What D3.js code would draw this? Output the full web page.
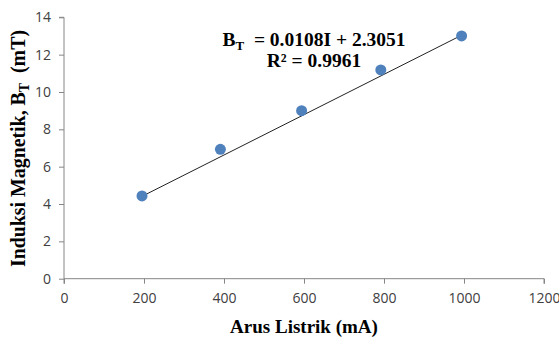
<!DOCTYPE html>
<html>
<head>
<meta charset="utf-8">
<script src="https://cdn.jsdelivr.net/npm/d3@7"></script>
<style>
  body { margin: 0; background: #fff; }
  svg { display: block; }
</style>
</head>
<body>
<svg width="559" height="337"></svg>
<script>
// data
var arus = [195, 391, 594, 792, 994];
var induksi = [4.43, 6.93, 9.0, 11.18, 13.0];
var xTicks = [0, 200, 400, 600, 800, 1000, 1200];
var yTicks = [0, 2, 4, 6, 8, 10, 12, 14];
var slope = 0.0108;
var intercept = 2.3051;

var svg = d3.select("svg");

var x = d3.scaleLinear().domain([0, 1200]).range([64, 544]);
var y = d3.scaleLinear().domain([0, 14]).range([278.7, 17.3]);

// sumbu x
var xAxis = svg.append("g").attr("transform", "translate(0," + y(0) + ")")
    .call(d3.axisBottom(x).tickValues(xTicks).tickFormat(d3.format("d")).tickSize(5).tickPadding(9));
// sumbu y
var yAxis = svg.append("g").attr("transform", "translate(" + x(0) + ",0)")
    .call(d3.axisLeft(y).tickValues(yTicks).tickFormat(d3.format("d")).tickSize(5).tickPadding(8));

[xAxis, yAxis].forEach(function (a) {
    a.selectAll("path, line").attr("stroke", "#868686");
    a.selectAll("text").attr("fill", "#404040")
        .style("font-family", "'Open Sans', 'Liberation Sans', sans-serif")
        .style("font-size", "14px");
});
yAxis.select(".domain").attr("d", "M-5," + y(14) + "H0V" + y(0));
xAxis.select(".domain").attr("d", "M" + x(0) + ",5V0H" + x(1200) + "V5");

// garis tren
svg.append("line")
    .attr("x1", x(arus[0])).attr("y1", y(slope * arus[0] + intercept))
    .attr("x2", x(arus[4])).attr("y2", y(slope * arus[4] + intercept))
    .attr("stroke", "#222").attr("stroke-width", 1);

// titik data
svg.selectAll("circle.pt").data(arus).enter().append("circle")
    .attr("class", "pt")
    .attr("cx", function (d) { return x(d); })
    .attr("cy", function (d, i) { return y(induksi[i]); })
    .attr("r", 5.5)
    .attr("fill", "#4F81BD");

var serif = "'Liberation Serif', 'Times New Roman', serif";

// judul sumbu x
svg.append("text")
    .attr("x", 304).attr("y", 333)
    .attr("text-anchor", "middle")
    .style("font-family", serif).style("font-weight", "bold").style("font-size", "19px")
    .text("Arus Listrik (mA)");

// judul sumbu y
var yt = svg.append("text")
    .attr("transform", "translate(25,148.5) rotate(-90)")
    .attr("text-anchor", "middle")
    .attr("textLength", 237).attr("lengthAdjust", "spacingAndGlyphs")
    .style("white-space", "pre")
    .style("font-family", serif).style("font-weight", "bold").style("font-size", "20px");
yt.append("tspan").text("Induksi Magnetik, B");
yt.append("tspan").attr("dy", 4).style("font-size", "14px").text("T");
yt.append("tspan").attr("dy", -4).text("  (mT)");

// persamaan
var eq = svg.append("text")
    .attr("x", 314).attr("y", 46)
    .attr("text-anchor", "middle")
    .style("white-space", "pre")
    .style("font-family", serif).style("font-weight", "bold").style("font-size", "19.5px");
eq.append("tspan").text("B");
eq.append("tspan").attr("dy", 4).style("font-size", "13px").text("T");
eq.append("tspan").attr("dy", -4).text("  = 0.0108I + 2.3051");

svg.append("text")
    .attr("x", 314).attr("y", 66.7)
    .attr("text-anchor", "middle")
    .style("font-family", serif).style("font-weight", "bold").style("font-size", "19.5px")
    .text("R² = 0.9961");
</script>
</body>
</html>
